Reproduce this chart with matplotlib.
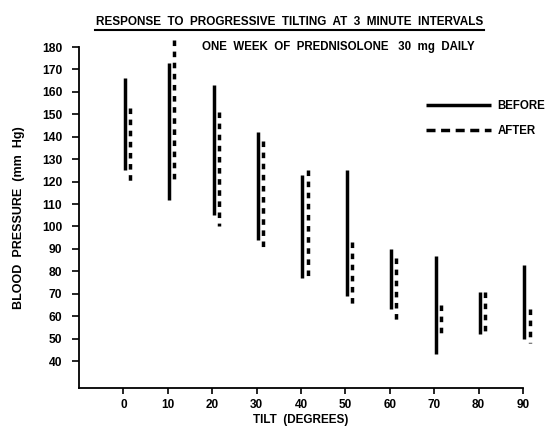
import matplotlib
matplotlib.use("Agg")
import matplotlib.pyplot as plt
from matplotlib.lines import Line2D

# ---- data ----
tilt = [0, 10, 20, 30, 40, 50, 60, 70, 80, 90]
before_high = [166, 173, 163, 142, 123, 125, 90, 87, 71, 83]
before_low = [125, 112, 105, 94, 77, 69, 63, 43, 52, 50]
after_high = [153, 183, 151, 138, 125, 93, 86, 65, 71, 63]
after_low = [120, 119, 100, 91, 78, 65, 58, 51, 51, 48]
yticks = [40, 50, 60, 70, 80, 90, 100, 110, 120, 130, 140, 150, 160, 170, 180]
xticks = [0, 10, 20, 30, 40, 50, 60, 70, 80, 90]

FONT = ['Liberation Sans Narrow', 'Liberation Sans', 'DejaVu Sans']
plt.rcParams['font.family'] = FONT

fig = plt.figure(figsize=(5.47, 4.28), dpi=100)
ax = fig.add_axes([79 / 547, 1 - 388 / 428, 444 / 547, 341 / 428])

dots = (0, (1.6, 1.6))
for i, t in enumerate(tilt):
    ax.plot([t + 0.3, t + 0.3], [before_high[i], before_low[i]], color='black',
            lw=2.5, solid_capstyle='butt', clip_on=False)
    ax.plot([t + 1.5, t + 1.5], [after_high[i], after_low[i]], color='black',
            lw=2.5, linestyle=dots, dash_capstyle='butt', clip_on=False)

ax.set_xlim(-10, 90)
ax.set_ylim(28, 180)
ax.set_xticks(xticks)
ax.set_yticks(yticks)
ax.set_xticklabels([str(v) for v in xticks], fontsize=8.5, fontweight='bold')
ax.set_yticklabels([str(v) for v in yticks], fontsize=8.7, fontweight='bold')
for s in ['top', 'right']:
    ax.spines[s].set_visible(False)
for s in ['left', 'bottom']:
    ax.spines[s].set_linewidth(1.3)
ax.tick_params(axis='y', length=5, width=1.2, pad=7)
ax.tick_params(axis='x', length=4, width=1.2, pad=4)

ax.set_xlabel('TILT  (DEGREES)', fontsize=8.5, fontweight='bold', labelpad=2)
ax.set_ylabel('BLOOD  PRESSURE  (mm  Hg)', fontsize=9, fontweight='bold', labelpad=12)

handles = [Line2D([], [], color='black', lw=2.5, solid_capstyle='butt'),
           Line2D([], [], color='black', lw=2.5, linestyle=(0, (2.6, 1.6)),
                  dash_capstyle='butt')]
leg = ax.legend(handles, ['BEFORE', 'AFTER'], loc='upper left',
                bbox_to_anchor=(0.782, 0.845), frameon=False,
                fontsize=8.3, handlelength=5.6, handletextpad=0.6,
                labelspacing=1.15, borderpad=0, borderaxespad=0)
for txt in leg.get_texts():
    txt.set_fontweight('bold')

fig.text(290 / 547, 1 - 22 / 428,
         'RESPONSE  TO  PROGRESSIVE  TILTING  AT  3  MINUTE  INTERVALS',
         ha='center', va='center', fontsize=8.5, fontweight='bold')
fig.add_artist(Line2D([95 / 547, 484 / 547], [1 - 30 / 428, 1 - 30 / 428],
                      color='black', lw=1.5, transform=fig.transFigure))
fig.text(338 / 547, 1 - 47 / 428, 'ONE  WEEK  OF  PREDNISOLONE   30  mg  DAILY',
         ha='center', va='center', fontsize=8.3, fontweight='bold')

fig.savefig('out.png', dpi=100)
